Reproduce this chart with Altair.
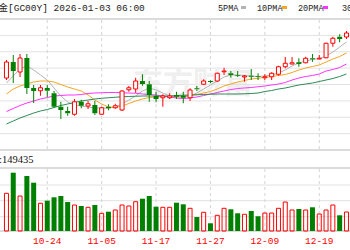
import altair as alt
import pandas as pd

# ---------------- data ----------------
dates = ["10-16","10-17","10-20","10-21","10-22","10-23","10-24","10-27","10-28","10-29","10-30","10-31",
         "11-03","11-04","11-05","11-06","11-07","11-10","11-11","11-12","11-13","11-14","11-17","11-18",
         "11-19","11-20","11-21","11-24","11-25","11-26","11-27","11-28","12-01","12-02","12-03","12-04",
         "12-05","12-08","12-09","12-10","12-11","12-12","12-15","12-16","12-17","12-18","12-19","12-22",
         "12-23","12-24","12-26"]

open_ = [4256,4384,4304,4416,4176,4154,4176,4134,4026,3992,3966,4066,4032,4040,3966,4026,4018,4000,4162,4168,
         4232,4206,4112,4098,4098,4120,4114,4098,4174,4206,4232,4232,4306,4294,4280,4264,4274,4270,4258,4266,
         4286,4346,4368,4382,4378,4414,4408,4418,4534,4586,4584]
close = [4384,4312,4416,4176,4152,4178,4154,4026,4000,3974,4066,4034,4050,3974,4018,4014,4034,4152,4178,4232,
         4208,4120,4088,4112,4112,4106,4098,4160,4166,4232,4224,4294,4312,4280,4274,4272,4266,4264,4266,4294,
         4346,4374,4378,4368,4414,4406,4414,4534,4574,4568,4616]
high = [4400,4440,4448,4448,4200,4200,4200,4152,4066,4026,4088,4082,4072,4072,4026,4046,4050,4158,4192,4258,
        4286,4232,4146,4126,4134,4146,4146,4174,4192,4246,4238,4298,4338,4312,4312,4280,4328,4294,4286,4302,
        4354,4424,4424,4414,4426,4448,4440,4538,4586,4606,4632]
low = [4240,4216,4264,4128,4056,4114,4104,4018,3928,3954,3954,4014,4008,3960,3960,3998,4010,3992,4146,4138,
       4194,4066,4062,4026,4088,4088,4054,4072,4152,4200,4214,4226,4280,4258,4264,4226,4240,4240,4240,4240,
       4274,4334,4366,4346,4374,4386,4406,4414,4506,4542,4568]
volume = [188500,291500,175000,275000,241500,138500,151500,168500,175000,145000,130000,125000,118500,130000,
          88500,96500,105000,130000,125000,146500,161500,175000,121500,118500,118500,141500,133500,113500,
          70000,93500,38500,78500,113500,108500,88500,83500,100000,73500,90000,90000,113500,145000,105000,
          110000,105000,118500,85000,105000,130000,78500,95000]

ma5 = [4216,4272,4328,4352,4320,4280,4240,4176,4112,4064,4040,4032,4024,4016,4016,4016,4024,4048,4080,4112,
       4152,4176,4160,4136,4112,4104,4104,4112,4136,4168,4200,4232,4264,4280,4280,4276,4272,4268,4272,4280,
       4296,4320,4352,4376,4392,4404,4412,4432,4464,4504,4544]
ma10 = [4128,4168,4192,4208,4224,4232,4232,4224,4204,4184,4168,4152,4120,4080,4048,4024,4020,4032,4052,4072,
        4088,4100,4104,4108,4108,4108,4112,4116,4124,4136,4148,4168,4192,4208,4224,4236,4248,4254,4260,4268,
        4276,4284,4300,4320,4336,4348,4360,4384,4408,4428,4456]
ma20 = [3988,4012,4036,4056,4072,4088,4100,4112,4116,4120,4120,4124,4132,4136,4138,4140,4140,4138,4136,4134,
        4128,4124,4120,4112,4104,4096,4092,4096,4104,4116,4128,4140,4152,4164,4172,4176,4180,4186,4192,4200,
        4208,4220,4240,4256,4268,4276,4288,4312,4324,4340,4368]
ma30 = [3888,3912,3936,3956,3976,3992,4004,4020,4036,4048,4060,4072,4080,4088,4094,4098,4102,4106,4108,4110,
        4112,4112,4112,4112,4112,4116,4118,4120,4122,4124,4126,4128,4128,4128,4128,4130,4132,4136,4148,4156,
        4168,4176,4188,4200,4208,4216,4228,4240,4252,4268,4288]

axis_dates = ["10-24", "11-05", "11-17", "11-27", "12-09", "12-19"]
price_grid = [3811, 3942, 4073, 4204, 4335, 4466, 4597]
price_border = [3680, 4728]
vol_grid = [71500, 151500, 230000]
vol_border = [0, 315000]
ma_names = ["MA5", "MA10", "MA20", "MA30"]
ma_colors = ["#b4b4b4", "#f5a623", "#ff33ff", "#2e8b57"]
legend_labels = ["5PMA", "10PMA", "20PMA", "30PMA"]
header = "黄金[GC00Y] 2026-01-03 06:00"
vol_text = ":149435"

# ---------------- tables ----------------
n = len(dates)
k = pd.DataFrame({"i": range(n), "date": dates, "open": open_, "close": close,
                  "high": high, "low": low, "vol": volume})
k["dir"] = ["up" if c >= o else "down" for o, c in zip(open_, close)]
k["bhi"] = k[["open", "close"]].max(axis=1)
k["blo"] = k[["open", "close"]].min(axis=1)

ma_df = pd.concat([pd.DataFrame({"i": range(n), "v": s, "ma": name})
                   for s, name in zip([ma5, ma10, ma20, ma30], ma_names)])
ticks = pd.DataFrame({"date": axis_dates, "i": [dates.index(d) for d in axis_dates]})

RED = "#ff0000"
GREEN = "#008000"
W = 350
xsc = alt.Scale(domain=[-1.5 / 7, (W - 1.5) / 7], nice=False, zero=False)
psc = alt.Scale(domain=[3680, 4728], range=[150, 19], nice=False, zero=False)
vsc = alt.Scale(domain=[0, 315000], range=[231, 168], nice=False, zero=False)
X = alt.X("i:Q", scale=xsc, axis=None)

base = alt.Chart(k)

# grid
pg = alt.Chart(pd.DataFrame({"p": price_grid})).mark_rule(color="#e2e2e2", strokeWidth=1).encode(
    y=alt.Y("p:Q", scale=psc, axis=None), x=alt.value(0), x2=alt.value(W))
pb = alt.Chart(pd.DataFrame({"p": price_border})).mark_rule(color="#b8b8b8", strokeWidth=1.2).encode(
    y=alt.Y("p:Q", scale=psc, axis=None), x=alt.value(0), x2=alt.value(W))
vg = alt.Chart(pd.DataFrame({"v": vol_grid})).mark_rule(color="#e2e2e2", strokeWidth=1).encode(
    y=alt.Y("v:Q", scale=vsc, axis=None), x=alt.value(0), x2=alt.value(W))
vb = alt.Chart(pd.DataFrame({"v": vol_border})).mark_rule(color="#b8b8b8", strokeWidth=1.2).encode(
    y=alt.Y("v:Q", scale=vsc, axis=None), x=alt.value(0), x2=alt.value(W))
vdash1 = alt.Chart(ticks).mark_rule(color="#d4d4d4", strokeDash=[3, 3]).encode(
    x=X, y=alt.value(20), y2=alt.value(149))
vdash2 = alt.Chart(ticks).mark_rule(color="#d4d4d4", strokeDash=[3, 3]).encode(
    x=X, y=alt.value(169), y2=alt.value(230))

watermark = alt.Chart(pd.DataFrame({"t": ["东方财富"]})).mark_text(
    font="Noto Sans CJK SC", fontSize=30, fontWeight="bold", color="#efefef", align="center",
    baseline="middle").encode(text="t:N", x=alt.value(193), y=alt.value(84))

lines = alt.Chart(ma_df).mark_line(strokeWidth=1, clip=True).encode(
    x=X, y=alt.Y("v:Q", scale=psc, axis=None),
    color=alt.Color("ma:N", scale=alt.Scale(domain=ma_names, range=ma_colors), legend=None),
    detail="ma:N")

def candles(d, col):
    sub = base.transform_filter(alt.datum.dir == d)
    w1 = sub.mark_rule(color=col, strokeWidth=1, clip=True).encode(
        x=X, y=alt.Y("high:Q", scale=psc, axis=None), y2="bhi:Q")
    w2 = sub.mark_rule(color=col, strokeWidth=1, clip=True).encode(
        x=X, y=alt.Y("blo:Q", scale=psc, axis=None), y2="low:Q")
    if d == "up":
        body = sub.mark_bar(size=4, fill="white", stroke=col, strokeWidth=1, clip=True).encode(
            x=X, y=alt.Y("open:Q", scale=psc, axis=None), y2="close:Q")
        vol = sub.mark_bar(size=4, fill="white", fillOpacity=0, stroke=col, strokeWidth=1, clip=True).encode(
            x=X, y=alt.Y("vol:Q", scale=vsc, axis=None))
    else:
        body = sub.mark_bar(size=5, color=col, clip=True).encode(
            x=X, y=alt.Y("open:Q", scale=psc, axis=None), y2="close:Q")
        vol = sub.mark_bar(size=5, color=col, clip=True).encode(
            x=X, y=alt.Y("vol:Q", scale=vsc, axis=None))
    return [w1, w2, body, vol]

xlabels = alt.Chart(ticks).mark_text(font="Liberation Mono", fontSize=9.5, color=RED,
                                      baseline="middle").encode(
    x=X, y=alt.value(241), text="date:N")

head = alt.Chart(pd.DataFrame({"t": [header]})).mark_text(
    font="Liberation Mono, Noto Sans CJK SC", fontSize=9.5, color="#222222", align="left",
    baseline="middle").encode(text="t:N", x=alt.value(-11), y=alt.value(8))

vtext = alt.Chart(pd.DataFrame({"t": [vol_text]})).mark_text(
    font="Liberation Serif", fontSize=10.5, color="#111111", align="left",
    baseline="middle").encode(text="t:N", x=alt.value(-1), y=alt.value(160))

legend_layers = []
lx = [218, 257, 298, 342]
for lab, col, x0 in zip(legend_labels, ma_colors, lx):
    legend_layers.append(alt.Chart(pd.DataFrame({"t": [lab]})).mark_text(
        font="Liberation Mono", fontSize=8.5, color="#222222", align="left", baseline="middle").encode(
        text="t:N", x=alt.value(x0), y=alt.value(8)))
    legend_layers.append(alt.Chart(pd.DataFrame({"t": [lab]})).mark_rect(color=col).encode(
        x=alt.value(x0 + 24 + (1 if len(lab) == 5 else -1)), x2=alt.value(x0 + 29 + (1 if len(lab) == 5 else -1)),
        y=alt.value(6), y2=alt.value(9)))

layers = [pg, pb, vg, vb, vdash1, vdash2, watermark, lines]
layers += candles("up", RED) + candles("down", GREEN)
layers += [xlabels, head, vtext] + legend_layers

chart = alt.layer(*layers).resolve_scale(y="independent", color="independent").properties(
    width=W, height=250, autosize=alt.AutoSizeParams(type="none"), padding=0,
).configure_view(stroke=None)

chart.save("out.html", embed_options={"renderer": "svg", "actions": False})
